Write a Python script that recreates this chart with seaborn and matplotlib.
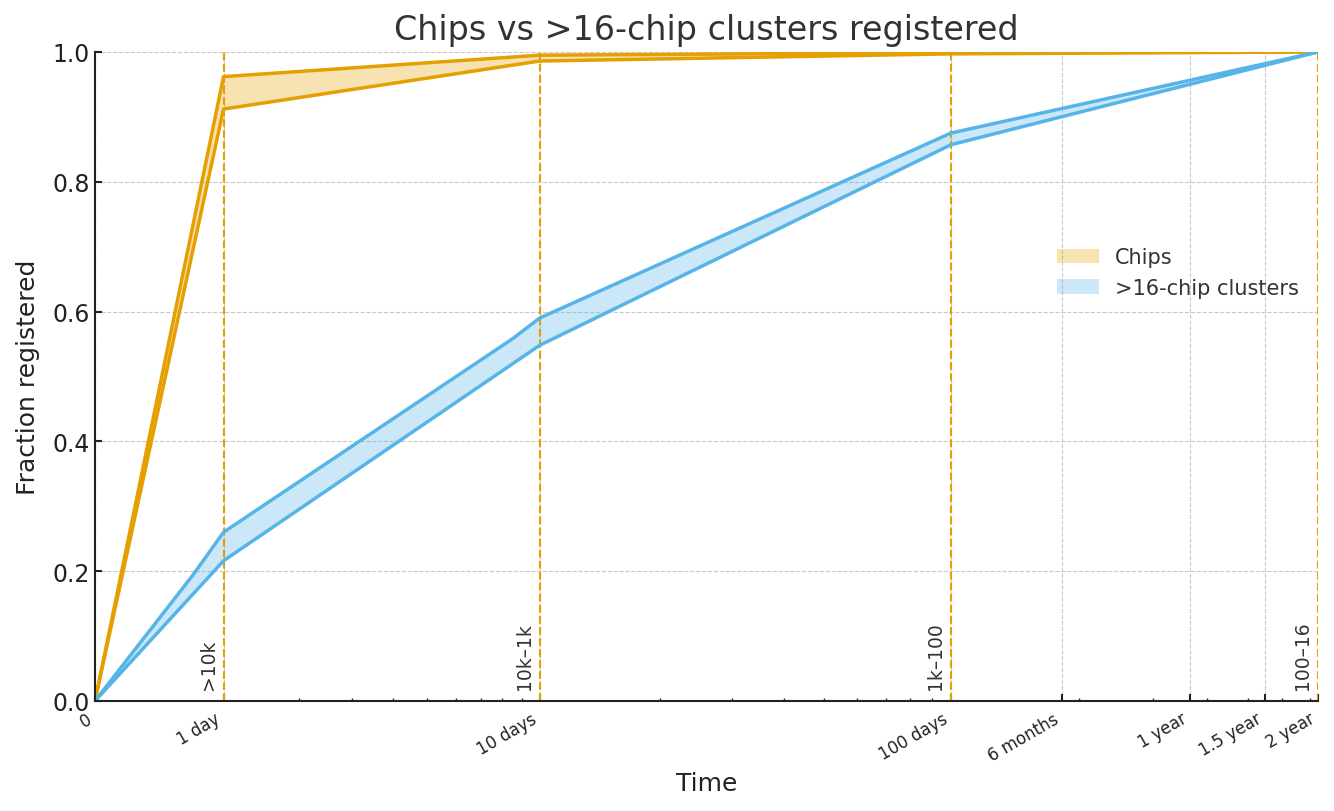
import numpy as np
import pandas as pd
import matplotlib
matplotlib.use("Agg")
import matplotlib.pyplot as plt
from matplotlib.patches import Patch
from matplotlib.ticker import FixedLocator, FixedFormatter
import seaborn as sns

# time in days
chips_days = [0, 1, 10, 100, 730]
chips_upper = [0.0, 0.962, 0.995, 0.999, 1.0]
chips_lower = [0.0, 0.912, 0.986, 0.997, 1.0]

clusters_upper_days = [0, 0.7, 1, 8.5, 10, 100, 730]
clusters_upper = [0.0, 0.195, 0.26, 0.558, 0.59, 0.875, 1.0]
clusters_lower_days = [0, 1, 10, 100, 730]
clusters_lower = [0.0, 0.216, 0.548, 0.857, 1.0]

tick_days = [0, 1, 10, 100, 182.5, 365, 547.5, 730]
tick_labels = ["0", "1 day", "10 days", "100 days", "6 months", "1 year", "1.5 year", "2 year"]
minor_days = [m * 10 ** k for k in range(3) for m in range(2, 10) if m * 10 ** k < 730]

tier_days = [1, 10, 100, 730]
tier_labels = [">10k", "10k\u20131k", "1k\u2013100", "100\u201316"]

ORANGE = "#E69F00"
BLUE = "#56B4E9"


def fwd(x):
    return np.log10(1 + np.asarray(x, dtype=float))


def inv(y):
    return 10 ** np.asarray(y, dtype=float) - 1


def draw_band(ax, x_up, y_up, x_lo, y_lo, color, label):
    up = pd.DataFrame({"days": x_up, "frac": y_up})
    lo = pd.DataFrame({"days": x_lo, "frac": y_lo})
    ax.fill(np.concatenate([up["days"], lo["days"][::-1]]),
            np.concatenate([up["frac"], lo["frac"][::-1]]),
            color=color, alpha=0.3, lw=0, label=label)
    sns.lineplot(data=up, x="days", y="frac", color=color, lw=2.5, ax=ax)
    sns.lineplot(data=lo, x="days", y="frac", color=color, lw=2.5, ax=ax)


sns.set_theme()
sns.set_style("ticks")
plt.rcParams["font.family"] = ["DejaVu Sans"]

fig = plt.figure(figsize=(13.34, 8.12), dpi=100)
ax = fig.add_axes([0.0712, 0.1355, 0.9168, 0.7993])
ax.set_xscale("function", functions=(fwd, inv))

ax.grid(True, which="major", linestyle="--", color="#c8c8c8", linewidth=0.8)
ax.set_axisbelow(True)

draw_band(ax, chips_days, chips_upper, chips_days, chips_lower, ORANGE, "Chips")
draw_band(ax, clusters_upper_days, clusters_upper, clusters_lower_days, clusters_lower,
          BLUE, ">16-chip clusters")

for d, lab in zip(tier_days, tier_labels):
    ax.axvline(d, color=ORANGE, linestyle="--", lw=1.5, zorder=1.5)
    ax.annotate(lab, xy=(d, 0.018), xycoords=ax.get_xaxis_transform(),
                xytext=(-4, 0), textcoords="offset points",
                rotation=90, ha="right", va="bottom", fontsize=13.5, color="#333333")

ax.set_xlim(0, 730)
ax.set_ylim(0, 1)
ax.xaxis.set_major_locator(FixedLocator(tick_days))
ax.xaxis.set_major_formatter(FixedFormatter(tick_labels))
ax.xaxis.set_minor_locator(FixedLocator(minor_days))
ax.set_yticks(np.arange(0, 1.01, 0.2))
ax.set_yticklabels([f"{v:.1f}" for v in np.arange(0, 1.01, 0.2)])

ax.tick_params(axis="both", which="major", direction="in", length=5, width=1.5, color="#222222")
ax.tick_params(axis="x", which="minor", direction="in", length=2.5, width=1.0, color="#222222")
ax.tick_params(axis="y", labelsize=17, labelcolor="#222222")
ax.tick_params(axis="x", labelsize=12, labelcolor="#222222", pad=6)
for lbl in ax.get_xticklabels():
    lbl.set_rotation(30)
    lbl.set_ha("right")

for side in ["top", "right"]:
    ax.spines[side].set_visible(False)
for side in ["left", "bottom"]:
    ax.spines[side].set_color("#222222")
    ax.spines[side].set_linewidth(1.5)

ax.set_title("Chips vs >16-chip clusters registered", fontsize=24, color="#333333", pad=9)
ax.set_xlabel("Time", fontsize=18, color="#222222", labelpad=5)
ax.set_ylabel("Fraction registered", fontsize=18, color="#222222", labelpad=9)

handles = [Patch(facecolor=ORANGE, alpha=0.3, edgecolor="none", label="Chips"),
           Patch(facecolor=BLUE, alpha=0.3, edgecolor="none", label=">16-chip clusters")]
leg = ax.legend(handles=handles, loc="center right", bbox_to_anchor=(1.0, 0.66),
                frameon=False, fontsize=15, labelcolor="#333333")

fig.savefig("out.png", dpi=100)
